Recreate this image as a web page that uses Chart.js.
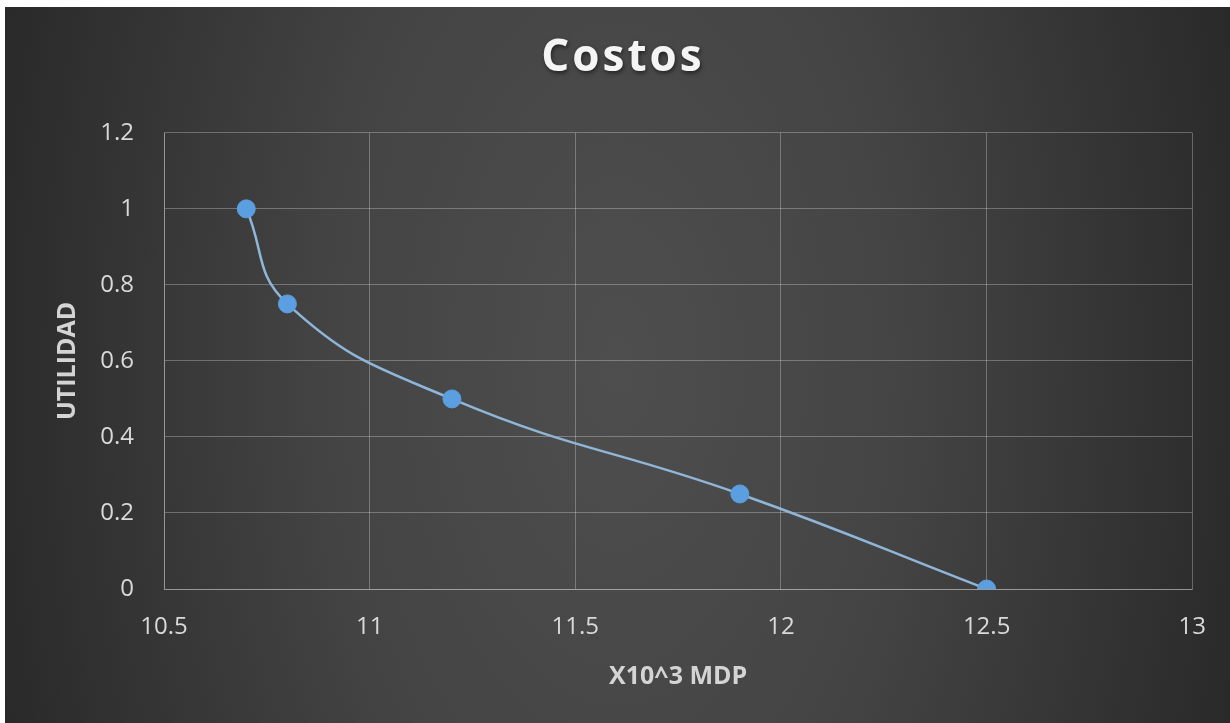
<!DOCTYPE html>
<html>
<head>
<meta charset="utf-8">
<script src="https://cdn.jsdelivr.net/npm/chart.js@4"></script>
<style>
  html, body { margin: 0; padding: 0; background: #ffffff; }
  #frame {
    position: absolute; left: 5px; top: 7px; width: 1225px; height: 716px;
    background: radial-gradient(ellipse 52% 160% at 50% 50%, #4e4e4e 0%, #444444 45%, #2a2a2a 100%);
  }
  canvas { display: block; }
</style>
</head>
<body>
<div id="frame"><canvas id="c" width="1225" height="716"></canvas></div>
<script>
// Costos: utilidad frente a costo (miles de MDP)
const xValues = [10.7, 10.8, 11.2, 11.9, 12.5];
const yValues = [1, 0.75, 0.5, 0.25, 0];
const xTickLabels = ['10.5', '11', '11.5', '12', '12.5', '13'];
const yTickLabels = ['0', '0.2', '0.4', '0.6', '0.8', '1', '1.2'];

const points = xValues.map((x, i) => ({ x: x, y: yValues[i] }));

const gridColor = 'rgba(255,255,255,0.28)';
const tickColor = '#d9d9d9';

const chart = new Chart(document.getElementById('c'), {
  type: 'scatter',
  data: {
    datasets: [{
      data: points,
      showLine: true,
      tension: 0.45,
      borderColor: '#8fb6d8',
      borderWidth: 2.5,
      pointRadius: 9,
      pointHoverRadius: 9,
      pointBackgroundColor: '#5b9fe0',
      pointBorderColor: '#5b9fe0',
      pointBorderWidth: 1
    }]
  },
  options: {
    responsive: false,
    animation: false,
    layout: { padding: { left: 34, right: 23, top: 0, bottom: 0 } },
    plugins: {
      legend: { display: false },
      tooltip: { enabled: false },
      title: {
        display: true,
        text: 'Costos',
        color: '#f4f4f4',
        font: { family: 'Open Sans', size: 44, weight: 'bold', lineHeight: 1.2 },
        padding: { top: 25, bottom: 48 }
      }
    },
    scales: {
      x: {
        type: 'linear',
        min: 10.5,
        max: 13,
        afterFit: (s) => { s.height = 134; },
        ticks: {
          stepSize: 0.5,
          color: tickColor,
          padding: 24,
          font: { family: 'Open Sans', size: 24 },
          callback: (v, i) => xTickLabels[i]
        },
        grid: { color: gridColor, lineWidth: 1, drawTicks: false },
        border: { color: gridColor, width: 1 },
        title: {
          display: true,
          text: 'X10^3 MDP',
          color: '#d4d4d4',
          font: { family: 'Open Sans', size: 25, weight: 'bold', lineHeight: 1.2 },
          padding: { top: 0, bottom: 31 }
        }
      },
      y: {
        type: 'linear',
        min: 0,
        max: 1.2,
        afterFit: (s) => { s.width = 125; },
        ticks: {
          stepSize: 0.2,
          color: tickColor,
          padding: 30,
          font: { family: 'Open Sans', size: 24 },
          callback: (v, i) => yTickLabels[i]
        },
        grid: { color: gridColor, lineWidth: 1, drawTicks: false },
        border: { color: gridColor, width: 1 },
        title: {
          display: true,
          text: 'UTILIDAD',
          color: '#d4d4d4',
          font: { family: 'Open Sans', size: 25, weight: 'bold', lineHeight: 1.2 },
          padding: { top: 14, bottom: 0 }
        }
      }
    }
  }
});

// Spaced, shadowed chart title
const titleBox = chart.titleBlock;
const drawTitle = titleBox.draw.bind(titleBox);
titleBox.draw = function (area) {
  const ctx = chart.ctx;
  ctx.save();
  ctx.letterSpacing = '3px';
  ctx.shadowColor = 'rgba(0,0,0,0.55)';
  ctx.shadowBlur = 4;
  ctx.shadowOffsetX = 1;
  ctx.shadowOffsetY = 2;
  drawTitle(area);
  ctx.restore();
};
chart.draw();
</script>
</body>
</html>
